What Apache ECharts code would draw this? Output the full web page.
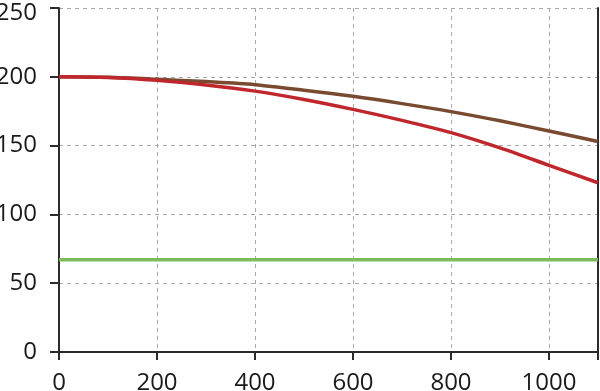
<!DOCTYPE html>
<html>
<head>
<meta charset="utf-8">
<script src="https://cdn.jsdelivr.net/npm/echarts@6/dist/echarts.min.js"></script>
<style>html,body{margin:0;padding:0;background:#fff}#c{width:600px;height:391px}</style>
</head>
<body>
<div id="c"></div>
<script>
const xValues = [0, 100, 200, 300, 400, 500, 600, 700, 800, 900, 1000, 1100];
const brownValues = [200, 199.6, 198.2, 196.5, 194.3, 190.3, 185.8, 180.5, 174.7, 168, 160.6, 153];
const redValues = [200, 199.5, 197.4, 194, 189.6, 183.5, 176.3, 168.3, 159.4, 148.3, 135.7, 123];
const greenX = [0, 1100];
const greenValues = [67, 67];
const xTicks = [0, 200, 400, 600, 800, 1000, 1100];
const xLabels = [0, 200, 400, 600, 800, 1000];

const pairs = (xs, ys) => xs.map((x, i) => [x, ys[i]]);
const font = '"Open Sans", "Noto Sans", sans-serif';
const axisColor = '#2b2b2b';
const gridStyle = { color: '#aaaaaa', width: 1, type: [4, 4] };

const chart = echarts.init(document.getElementById('c'), null, { renderer: 'canvas' });
chart.setOption({
  animation: false,
  grid: { left: 59, right: 2, top: 8, bottom: 39, containLabel: false, outerBoundsMode: 'none' },
  xAxis: {
    type: 'value', min: 0, max: 1100,
    axisLine: { show: true, lineStyle: { color: axisColor, width: 2 } },
    axisTick: { show: true, inside: false, length: 8, customValues: xTicks, lineStyle: { color: axisColor, width: 2 } },
    axisLabel: { customValues: xLabels, margin: 19, color: '#1a1a1a', fontSize: 24, fontFamily: font, formatter: v => String(v) },
    splitLine: { show: true, lineStyle: gridStyle }
  },
  yAxis: [{
    type: 'value', min: 0, max: 250, interval: 50,
    axisLine: { show: true, lineStyle: { color: axisColor, width: 2 } },
    axisTick: { show: true, length: 9, lineStyle: { color: axisColor, width: 2 } },
    axisLabel: {
      margin: 22, color: '#1a1a1a', fontSize: 24, fontFamily: font,
      formatter: v => v === 250 ? '{t|' + v + '}' : String(v),
      rich: { t: { padding: [11, 0, 0, 0], fontSize: 24, fontFamily: font, color: '#1a1a1a' } }
    },
    splitLine: { show: true, lineStyle: gridStyle }
  }, {
    type: 'value', min: 0, max: 250, interval: 50, position: 'right',
    axisLine: { show: true, lineStyle: { color: axisColor, width: 2 } },
    axisTick: { show: false }, axisLabel: { show: false }, splitLine: { show: false }
  }],
  series: [
    { type: 'line', data: pairs(greenX, greenValues), showSymbol: false, lineStyle: { color: '#7dbb5a', width: 3.5 } },
    { type: 'line', data: pairs(xValues, brownValues), smooth: 0.3, showSymbol: false, lineStyle: { color: '#7a4a30', width: 3.5 } },
    { type: 'line', data: pairs(xValues, redValues), smooth: 0.3, showSymbol: false, lineStyle: { color: '#c0272d', width: 3.5 } }
  ]
});
</script>
</body>
</html>
